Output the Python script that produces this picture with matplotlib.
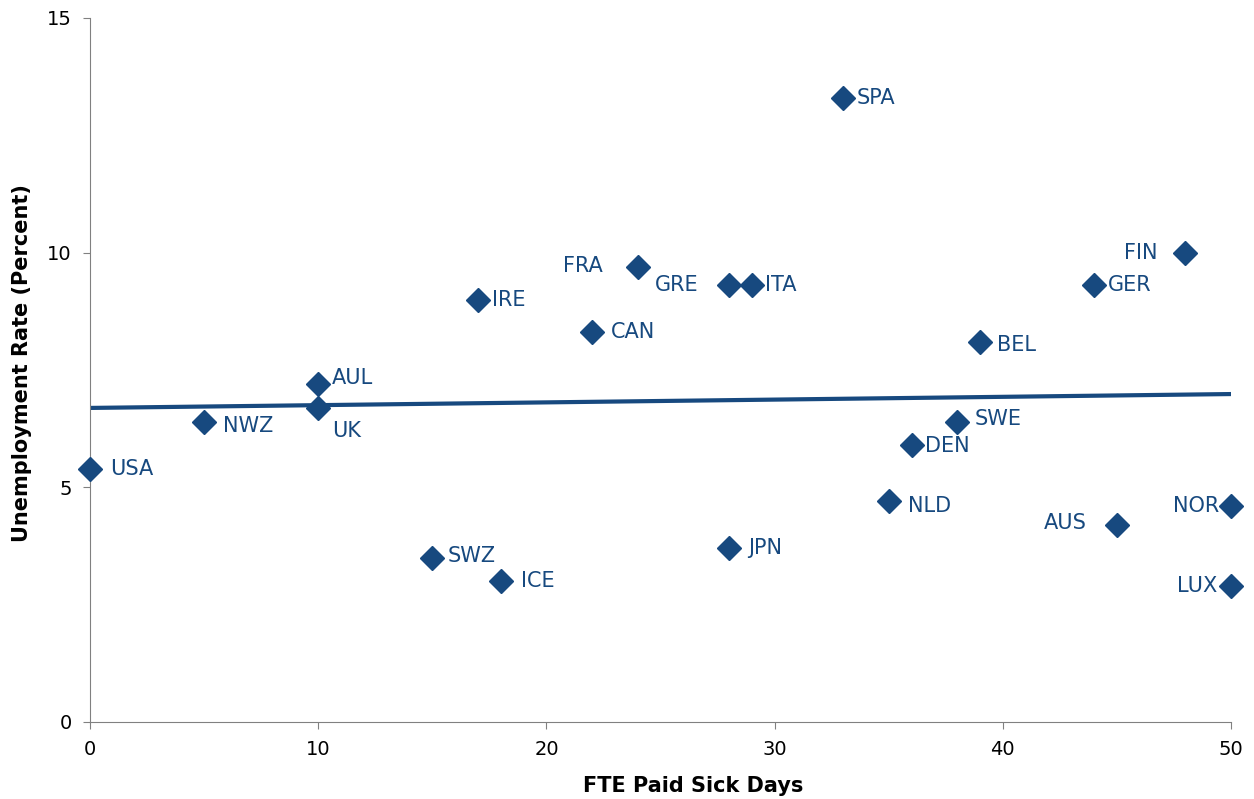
import numpy as np
import matplotlib.pyplot as plt

# 国家代码、带薪病假天数、失业率
countries = ['USA', 'NWZ', 'AUL', 'UK', 'SWZ', 'ICE', 'IRE', 'CAN', 'FRA', 'GRE', 'ITA',
             'JPN', 'SPA', 'NLD', 'DEN', 'SWE', 'BEL', 'GER', 'AUS', 'FIN', 'NOR', 'LUX']
sick_days = [0, 5, 10, 10, 15, 18, 17, 22, 24, 28, 29,
             28, 33, 35, 36, 38, 39, 44, 45, 48, 50, 50]
unemp = [5.4, 6.4, 7.2, 6.7, 3.5, 3.0, 9.0, 8.3, 9.7, 9.3, 9.3,
         3.7, 13.3, 4.7, 5.9, 6.4, 8.1, 9.3, 4.2, 10.0, 4.6, 2.9]

# 标签偏移(像素)和对齐方式
offsets = {'USA': (20, 0, 'left'), 'NWZ': (19, -4, 'left'), 'AUL': (14, 6, 'left'),
           'UK': (14, -23, 'left'), 'SWZ': (15, 2, 'left'), 'ICE': (20, 0, 'left'),
           'IRE': (14, 0, 'left'), 'CAN': (19, 0, 'left'), 'FRA': (-35, 1, 'right'),
           'GRE': (-31, 0, 'right'), 'ITA': (13, 0, 'left'), 'JPN': (19, 0, 'left'),
           'SPA': (14, 0, 'left'), 'NLD': (19, -5, 'left'), 'DEN': (13, -1, 'left'),
           'SWE': (17, 3, 'left'), 'BEL': (17, -3, 'left'), 'GER': (14, 0, 'left'),
           'AUS': (-30, 2, 'right'), 'FIN': (-28, 0, 'right'), 'NOR': (-12, 0, 'right'),
           'LUX': (-14, 0, 'right')}

blue = '#17497F'

fig = plt.figure(figsize=(12.54, 7.99), dpi=100)
ax = fig.add_axes([0.0718, 0.0964, 0.9099, 0.8811])

x = np.array(sick_days)
y = np.array(unemp)
k, b = np.polyfit(x, y, 1)
xx = np.array([0, 50])
ax.plot(xx, k * xx + b, color=blue, lw=3, zorder=2, solid_capstyle='butt')
ax.plot(x, y, 'D', color=blue, ms=12, zorder=3, clip_on=False)

for c, xi, yi in zip(countries, sick_days, unemp):
    dx, dy, ha = offsets[c]
    ax.annotate(c, xy=(xi, yi), xytext=(dx, dy), textcoords='offset pixels',
                ha=ha, va='center', fontsize=15, color=blue)

ax.set_xlim(0, 50)
ax.set_ylim(0, 15)
ax.set_xticks([0, 10, 20, 30, 40, 50])
ax.set_yticks([0, 5, 10, 15])
ax.tick_params(labelsize=14, length=5, color='#808080', pad=8)
for s in ['top', 'right']:
    ax.spines[s].set_visible(False)
for s in ['left', 'bottom']:
    ax.spines[s].set_color('#808080')

ax.set_xlabel('FTE Paid Sick Days', fontsize=15, fontweight='bold', va='center')
ax.set_ylabel('Unemployment Rate (Percent)', fontsize=15, fontweight='bold', va='center')
ax.xaxis.set_label_coords(0.5285, -0.091)
ax.yaxis.set_label_coords(-0.0596, 0.5099)

fig.savefig('out.png', dpi=100)
